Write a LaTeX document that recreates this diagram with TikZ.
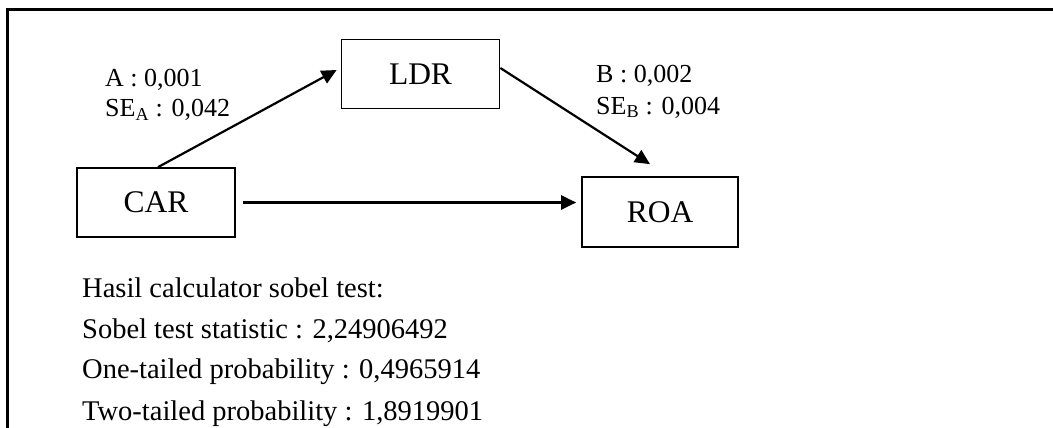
\documentclass[tikz,border=0pt]{standalone}
\usepackage{fontspec}
\setmainfont{Liberation Serif}
\usetikzlibrary{arrows.meta}
\tikzset{
  varbox/.style={draw, line width=1.7pt, minimum width=158pt, minimum height=69pt, inner sep=0pt, font=\fontsize{31.5}{36}\selectfont},
  edgelbl/.style={anchor=base west, inner sep=0pt, font=\fontsize{26}{30}\selectfont},
  reslbl/.style={anchor=base west, inner sep=0pt, font=\fontsize{28.5}{33}\selectfont},
  conn/.style={line width=2.2pt, -{Triangle[length=15pt,width=14pt]}},
  frame/.style={line width=3pt}
}
\begin{document}
\begin{tikzpicture}[x=1pt,y=-1pt]
\useasboundingbox (0,0) rectangle (1053,428);
\coordinate (fb) at (7,429);
\coordinate (fc) at (7,10);
\coordinate (fr) at (1054,10);
\draw[frame] (fb) -- (fc) -- (fr);
\node[varbox] (ldr) at (420.5,74) {LDR};
\node[varbox] (car) at (156,202.5) {CAR};
\node[varbox, minimum width=156pt, minimum height=70pt] (roa) at (660,212) {ROA};
\draw[conn] ([xshift=2pt]car.north) -- ([xshift=-4pt,yshift=4pt]ldr.west);
\draw[conn] ([yshift=6pt]ldr.east) -- ([xshift=-10pt,yshift=12pt]roa.north);
\draw[conn] ([xshift=7pt]car.east) -- ([xshift=-5pt]roa.west |- car.east);
\node[edgelbl] (la1) at (105,87) {A : 0,001};
\node[edgelbl] (la2) at (105,117) {SE\textsubscript{A} : 0,042};
\node[edgelbl] (lb1) at (596,83) {B : 0,002};
\node[edgelbl] (lb2) at (596,114) {SE\textsubscript{B} : 0,004};
\node[reslbl] (r1) at (82,297) {Hasil calculator sobel test:};
\node[reslbl] (r2) at (82,338) {Sobel test statistic : 2,24906492};
\node[reslbl] (r3) at (82,378) {One-tailed probability : 0,4965914};
\node[reslbl] (r4) at (82,420) {Two-tailed probability : 1,8919901};
\end{tikzpicture}
\end{document}
